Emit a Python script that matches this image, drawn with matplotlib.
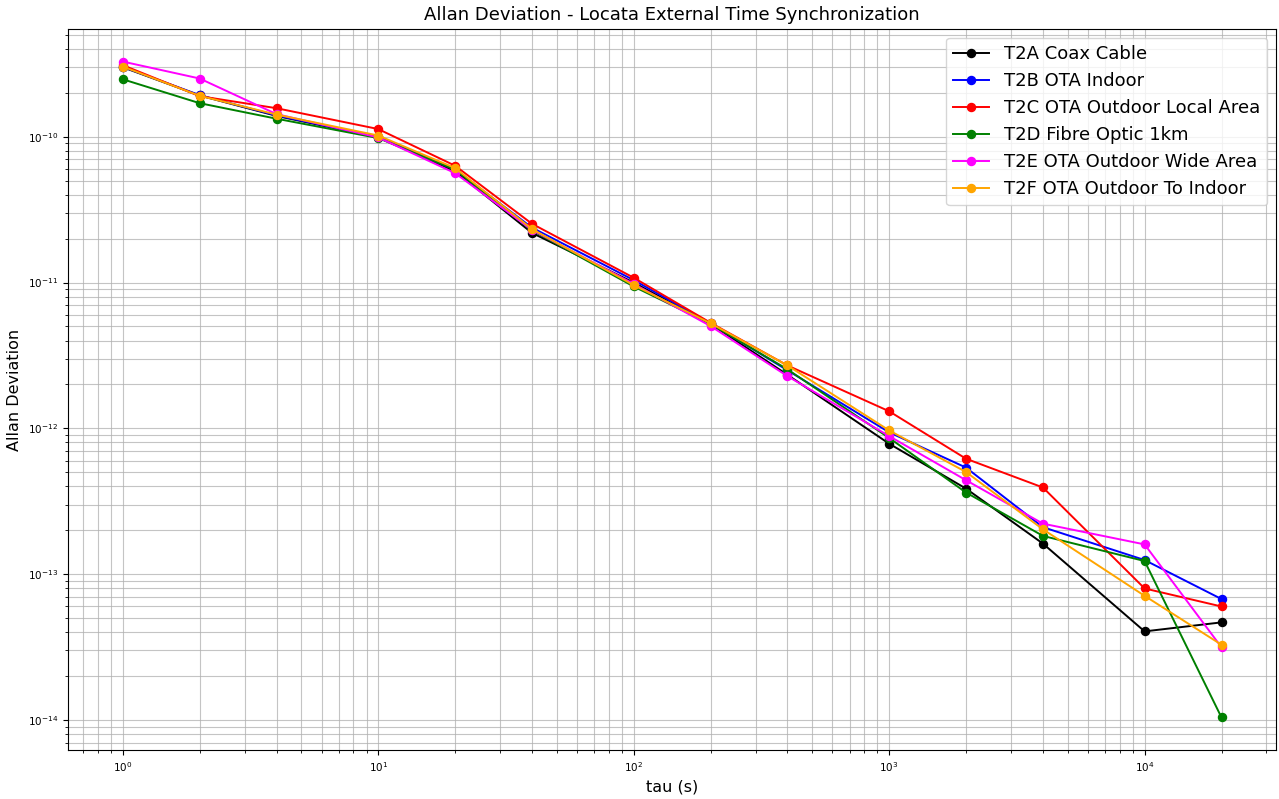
import matplotlib
matplotlib.use("Agg")
import matplotlib.pyplot as plt

tau = [1, 2, 4, 10, 20, 40, 100, 200, 400, 1000, 2000, 4000, 10000, 20000]

t2a = [3.00e-10, 1.92e-10, 1.39e-10, 0.99e-10, 5.80e-11, 2.19e-11, 1.00e-11,
       5.20e-12, 2.33e-12, 7.85e-13, 3.86e-13, 1.62e-13, 4.05e-14, 4.67e-14]
t2b = [3.02e-10, 1.93e-10, 1.40e-10, 1.00e-10, 5.95e-11, 2.38e-11, 1.04e-11,
       5.25e-12, 2.50e-12, 9.40e-13, 5.38e-13, 2.10e-13, 1.25e-13, 6.75e-14]
t2c = [3.10e-10, 1.90e-10, 1.57e-10, 1.13e-10, 6.33e-11, 2.53e-11, 1.08e-11,
       5.30e-12, 2.70e-12, 1.31e-12, 6.19e-13, 3.93e-13, 7.98e-14, 6.00e-14]
t2d = [2.48e-10, 1.70e-10, 1.33e-10, 0.98e-10, 5.95e-11, 2.28e-11, 9.40e-12,
       5.20e-12, 2.54e-12, 8.60e-13, 3.63e-13, 1.83e-13, 1.23e-13, 1.04e-14]
t2e = [3.28e-10, 2.51e-10, 1.43e-10, 0.99e-10, 5.63e-11, 2.30e-11, 9.80e-12,
       5.03e-12, 2.28e-12, 8.85e-13, 4.41e-13, 2.22e-13, 1.60e-13, 3.15e-14]
t2f = [3.03e-10, 1.91e-10, 1.42e-10, 1.02e-10, 6.10e-11, 2.33e-11, 9.60e-12,
       5.25e-12, 2.70e-12, 9.68e-13, 5.02e-13, 2.03e-13, 7.10e-14, 3.28e-14]

series = [
    ("T2A Coax Cable", t2a, "black"),
    ("T2B OTA Indoor", t2b, "blue"),
    ("T2C OTA Outdoor Local Area", t2c, "red"),
    ("T2D Fibre Optic 1km", t2d, "green"),
    ("T2E OTA Outdoor Wide Area", t2e, "magenta"),
    ("T2F OTA Outdoor To Indoor", t2f, "orange"),
]

fig, ax = plt.subplots(figsize=(12.79, 7.99), dpi=100)
fig.subplots_adjust(left=0.053, right=0.998, top=0.964, bottom=0.061)

for label, vals, color in series:
    ax.loglog(tau, vals, marker="o", markersize=5.8, linewidth=1.4,
              color=color, label=label)

ax.grid(True, which="both", linestyle="-", color="#b0b0b0", linewidth=0.8, alpha=0.75)
ax.tick_params(labelsize=7.5)
ax.set_xlabel("tau (s)", fontsize=11.5)
ax.set_ylabel("Allan Deviation", fontsize=11.5)
ax.set_title("Allan Deviation - Locata External Time Synchronization", fontsize=13)
ax.legend(loc="upper right", fontsize=13)

fig.savefig("out.png", dpi=100)
